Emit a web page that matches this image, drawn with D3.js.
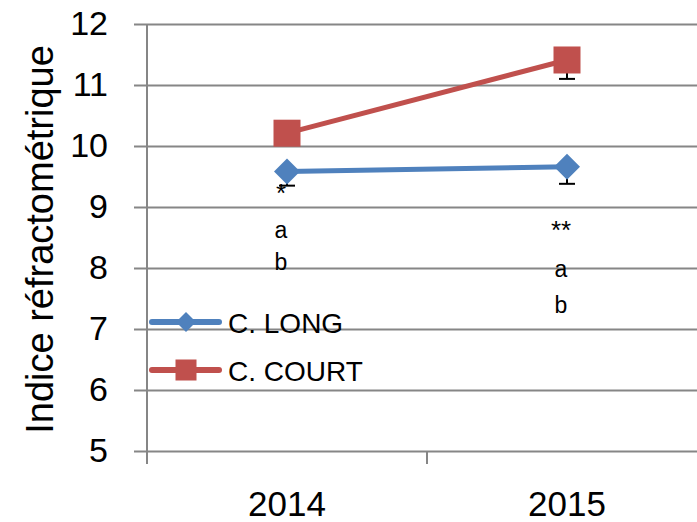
<!DOCTYPE html>
<html>
<head>
<meta charset="utf-8">
<script src="https://cdn.jsdelivr.net/npm/d3@7/dist/d3.min.js"></script>
<style>
  html, body { margin: 0; padding: 0; background: #fff; }
  svg { display: block; }
</style>
</head>
<body>
<svg id="chart" width="697" height="522"></svg>
<script>
// ---- data ----
const categories = ["2014", "2015"];
const seriesNames = ["C. LONG", "C. COURT"];
const longValues = [9.58, 9.66];
const courtValues = [10.21, 11.41];
const longErrors = [0.23, 0.28];
const courtErrors = [0.15, 0.31];
const yTicks = [5, 6, 7, 8, 9, 10, 11, 12];
const yTitle = "Indice réfractométrique";
// annotations: category, y value (baseline), label
const annotCats = ["2014", "2014", "2014", "2015", "2015", "2015"];
const annotValues = [9.08, 8.49, 7.97, 8.47, 7.85, 7.26];
const annotLabels = ["*", "a", "b", "**", "a", "b"];

const colors = ["#4F81BD", "#C0504D"];
const grid = "#868686";
const sans = "Liberation Sans, Arial, sans-serif";

const svg = d3.select("#chart");
const plotLeft = 147, plotRight = 707, plotTop = 24, plotBottom = 451;

const x = d3.scaleBand().domain(categories).range([plotLeft, plotRight]);
const y = d3.scaleLinear().domain([5, 12]).range([plotBottom, plotTop]);
const cx = c => x(c) + x.bandwidth() / 2;

// y axis with gridlines
const yAxis = d3.axisLeft(y).tickValues(yTicks).tickFormat(d3.format("d"))
  .tickSize(-(plotRight - 134)).tickPadding(26);
const gy = svg.append("g").attr("transform", "translate(134,0)").call(yAxis);
gy.select(".domain").remove();
gy.selectAll(".tick line").attr("stroke", grid).attr("stroke-width", 2);
gy.selectAll(".tick text").attr("font-family", sans)
  .attr("font-size", 34).attr("fill", "#000");

// vertical axis line
svg.append("line").attr("x1", plotLeft).attr("x2", plotLeft)
  .attr("y1", plotTop).attr("y2", plotBottom + 13)
  .attr("stroke", grid).attr("stroke-width", 2);

// x axis
const xAxis = d3.axisBottom(x).tickSize(0).tickPadding(0);
const gx = svg.append("g").attr("transform", `translate(0,${plotBottom})`).call(xAxis);
gx.select(".domain").remove();
gx.selectAll(".tick line").remove();
gx.selectAll(".tick text").attr("font-family", sans)
  .attr("font-size", 35).attr("fill", "#000").attr("dy", null).attr("y", 65);
// category boundary ticks
const bounds = categories.map(c => x(c)).concat([x(categories[categories.length - 1]) + x.bandwidth()]);
svg.append("g").selectAll("line").data(bounds).join("line")
  .attr("x1", d => d).attr("x2", d => d)
  .attr("y1", plotBottom).attr("y2", plotBottom + 13)
  .attr("stroke", grid).attr("stroke-width", 2);

// y title
svg.append("text")
  .attr("transform", `translate(53,${(plotTop + plotBottom) / 2 + 2}) rotate(-90)`)
  .attr("text-anchor", "middle")
  .attr("font-family", sans)
  .attr("font-size", 38).attr("fill", "#000")
  .text(yTitle);

// series
const series = [
  { name: seriesNames[0], values: longValues, errors: longErrors, color: colors[0], shape: "diamond" },
  { name: seriesNames[1], values: courtValues, errors: courtErrors, color: colors[1], shape: "square" }
];

const line = d3.line().x((d, i) => cx(categories[i])).y(d => y(d));

function marker(g, shape, px, py, s, color) {
  if (shape === "diamond") {
    g.append("path")
      .attr("d", `M${px},${py - s}L${px + s},${py}L${px},${py + s}L${px - s},${py}Z`)
      .attr("fill", color);
  } else {
    g.append("rect").attr("x", px - s).attr("y", py - s)
      .attr("width", 2 * s).attr("height", 2 * s).attr("fill", color);
  }
}

// error bars (minus direction)
const eg = svg.append("g");
series.forEach(s => {
  s.values.forEach((v, i) => {
    const px = cx(categories[i]);
    eg.append("line").attr("x1", px).attr("x2", px)
      .attr("y1", y(v)).attr("y2", y(v - s.errors[i]))
      .attr("stroke", "#000").attr("stroke-width", 2);
    eg.append("line").attr("x1", px - 8).attr("x2", px + 8)
      .attr("y1", y(v - s.errors[i])).attr("y2", y(v - s.errors[i]))
      .attr("stroke", "#000").attr("stroke-width", 2);
  });
});

series.forEach(s => {
  svg.append("path").datum(s.values).attr("d", line)
    .attr("fill", "none").attr("stroke", s.color).attr("stroke-width", 5);
});
series.forEach(s => {
  const g = svg.append("g");
  s.values.forEach((v, i) => {
    marker(g, s.shape, cx(categories[i]), y(v), s.shape === "diamond" ? 13 : 13.5, s.color);
  });
});

// annotations
svg.append("g").selectAll("text").data(annotLabels).join("text")
  .attr("x", (d, i) => cx(annotCats[i]) - 6)
  .attr("y", (d, i) => y(annotValues[i]))
  .attr("text-anchor", "middle")
  .attr("font-family", sans)
  .attr("font-size", (d) => d.startsWith("*") ? 26 : 23).attr("fill", "#000")
  .text(d => d);

// legend
const legY = [322, 370];
series.forEach((s, i) => {
  const g = svg.append("g");
  g.append("line").attr("x1", 152).attr("x2", 219).attr("y1", legY[i]).attr("y2", legY[i])
    .attr("stroke", s.color).attr("stroke-width", 6).attr("stroke-linecap", "round");
  marker(g, s.shape, 186, legY[i], s.shape === "diamond" ? 10 : 10.5, s.color);
  g.append("text").attr("x", 228).attr("y", legY[i] + 11)
    .attr("font-family", sans)
    .attr("font-size", 28).attr("fill", "#000")
    .text(s.name);
});
</script>
</body>
</html>
